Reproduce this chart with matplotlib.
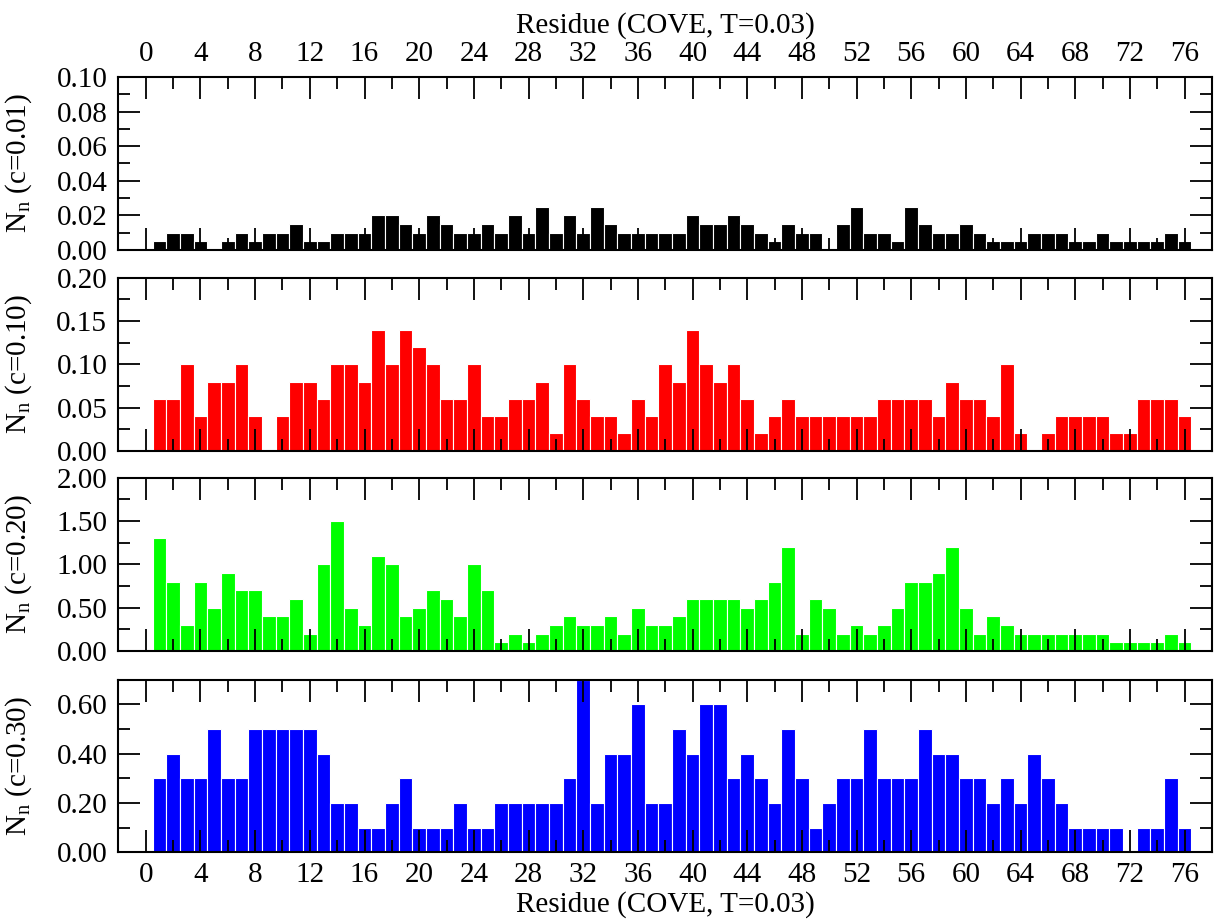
# Per-residue N_n histograms for four cutoffs c (COVE, T=0.03)

import numpy as np
import matplotlib
matplotlib.use("Agg")
import matplotlib.pyplot as plt
from matplotlib.ticker import MultipleLocator, FormatStrFormatter

plt.rcParams['font.family'] = ['Liberation Serif', 'DejaVu Serif']
plt.rcParams['mathtext.default'] = 'regular'

residues = np.arange(1, 77)

nn_c001 = [0.005, 0.01, 0.01, 0.005, 0, 0.005, 0.01, 0.005, 0.01, 0.01,
           0.015, 0.005, 0.005, 0.01, 0.01, 0.01, 0.02, 0.02, 0.015, 0.01,
           0.02, 0.015, 0.01, 0.01, 0.015, 0.01, 0.02, 0.01, 0.025, 0.01,
           0.02, 0.01, 0.025, 0.015, 0.01, 0.01, 0.01, 0.01, 0.01, 0.02,
           0.015, 0.015, 0.02, 0.015, 0.01, 0.005, 0.015, 0.01, 0.01, 0,
           0.015, 0.025, 0.01, 0.01, 0.005, 0.025, 0.015, 0.01, 0.01, 0.015,
           0.01, 0.005, 0.005, 0.005, 0.01, 0.01, 0.01, 0.005, 0.005, 0.01,
           0.005, 0.005, 0.005, 0.005, 0.01, 0.005]

nn_c010 = [0.06, 0.06, 0.10, 0.04, 0.08, 0.08, 0.10, 0.04, 0, 0.04,
           0.08, 0.08, 0.06, 0.10, 0.10, 0.08, 0.14, 0.10, 0.14, 0.12,
           0.10, 0.06, 0.06, 0.10, 0.04, 0.04, 0.06, 0.06, 0.08, 0.02,
           0.10, 0.06, 0.04, 0.04, 0.02, 0.06, 0.04, 0.10, 0.08, 0.14,
           0.10, 0.08, 0.10, 0.06, 0.02, 0.04, 0.06, 0.04, 0.04, 0.04,
           0.04, 0.04, 0.04, 0.06, 0.06, 0.06, 0.06, 0.04, 0.08, 0.06,
           0.06, 0.04, 0.10, 0.02, 0, 0.02, 0.04, 0.04, 0.04, 0.04,
           0.02, 0.02, 0.06, 0.06, 0.06, 0.04]

nn_c020 = [1.3, 0.8, 0.3, 0.8, 0.5, 0.9, 0.7, 0.7, 0.4, 0.4,
           0.6, 0.2, 1.0, 1.5, 0.5, 0.3, 1.1, 1.0, 0.4, 0.5,
           0.7, 0.6, 0.4, 1.0, 0.7, 0.1, 0.2, 0.1, 0.2, 0.3,
           0.4, 0.3, 0.3, 0.4, 0.2, 0.5, 0.3, 0.3, 0.4, 0.6,
           0.6, 0.6, 0.6, 0.5, 0.6, 0.8, 1.2, 0.2, 0.6, 0.5,
           0.2, 0.3, 0.2, 0.3, 0.5, 0.8, 0.8, 0.9, 1.2, 0.5,
           0.2, 0.4, 0.3, 0.2, 0.2, 0.2, 0.2, 0.2, 0.2, 0.2,
           0.1, 0.1, 0.1, 0.1, 0.2, 0.1]

nn_c030 = [0.3, 0.4, 0.3, 0.3, 0.5, 0.3, 0.3, 0.5, 0.5, 0.5,
           0.5, 0.5, 0.4, 0.2, 0.2, 0.1, 0.1, 0.2, 0.3, 0.1,
           0.1, 0.1, 0.2, 0.1, 0.1, 0.2, 0.2, 0.2, 0.2, 0.2,
           0.3, 0.7, 0.2, 0.4, 0.4, 0.6, 0.2, 0.2, 0.5, 0.4,
           0.6, 0.6, 0.3, 0.4, 0.3, 0.2, 0.5, 0.3, 0.1, 0.2,
           0.3, 0.3, 0.5, 0.3, 0.3, 0.3, 0.5, 0.4, 0.4, 0.3,
           0.3, 0.2, 0.3, 0.2, 0.4, 0.3, 0.2, 0.1, 0.1, 0.1,
           0.1, 0, 0.1, 0.1, 0.3, 0.1]

series = [nn_c001, nn_c010, nn_c020, nn_c030]
colors = ['black', '#ff0000', '#00ff00', '#0000ff']
cutoffs = ['0.01', '0.10', '0.20', '0.30']
ymax = [0.10, 0.20, 2.00, 0.70]
ymajor = [0.02, 0.05, 0.50, 0.20]
yminor = [0.01, 0.025, 0.25, 0.10]

xlabel = 'Residue (COVE, T=0.03)'

fig = plt.figure(figsize=(12.15, 9.22), dpi=100)

# panel boxes in figure fraction: left, bottom, width, height
left, width, height = 0.0975, 0.900, 0.1876
bottoms = [0.7289, 0.5111, 0.2941, 0.0754]

for i in range(4):
    ax = fig.add_axes([left, bottoms[i], width, height])
    ax.bar(residues, series[i], width=1.0, color=colors[i],
           edgecolor='white', linewidth=0.8, zorder=1)
    ax.set_xlim(-2, 78)
    ax.set_ylim(0, ymax[i])
    ax.xaxis.set_major_locator(MultipleLocator(4))
    ax.xaxis.set_minor_locator(MultipleLocator(2))
    ax.yaxis.set_major_locator(MultipleLocator(ymajor[i]))
    ax.yaxis.set_minor_locator(MultipleLocator(yminor[i]))
    ax.yaxis.set_major_formatter(FormatStrFormatter('%.2f'))
    ax.tick_params(which='both', direction='in', top=True, bottom=True,
                   left=True, right=True, labelsize=21, width=1.3)
    ax.tick_params(which='major', length=16)
    ax.tick_params(which='minor', length=8.5)
    ax.tick_params(axis='y', pad=8)
    ax.tick_params(axis='x', pad=7)
    for sp in ax.spines.values():
        sp.set_linewidth(1.5)

    ax.set_ylabel('N$_n$ (c=' + cutoffs[i] + ')', fontsize=21)
    ax.yaxis.set_label_coords(-0.077, 0.5)

    if i == 0:
        ax.tick_params(axis='x', labeltop=True, labelbottom=False)
        ax.xaxis.set_label_position('top')
        ax.set_xlabel(xlabel, fontsize=21, labelpad=6)
    elif i == 3:
        ax.set_xlabel(xlabel, fontsize=21, labelpad=2)
    else:
        ax.tick_params(axis='x', labelbottom=False)

plt.savefig('out.png', dpi=100)
